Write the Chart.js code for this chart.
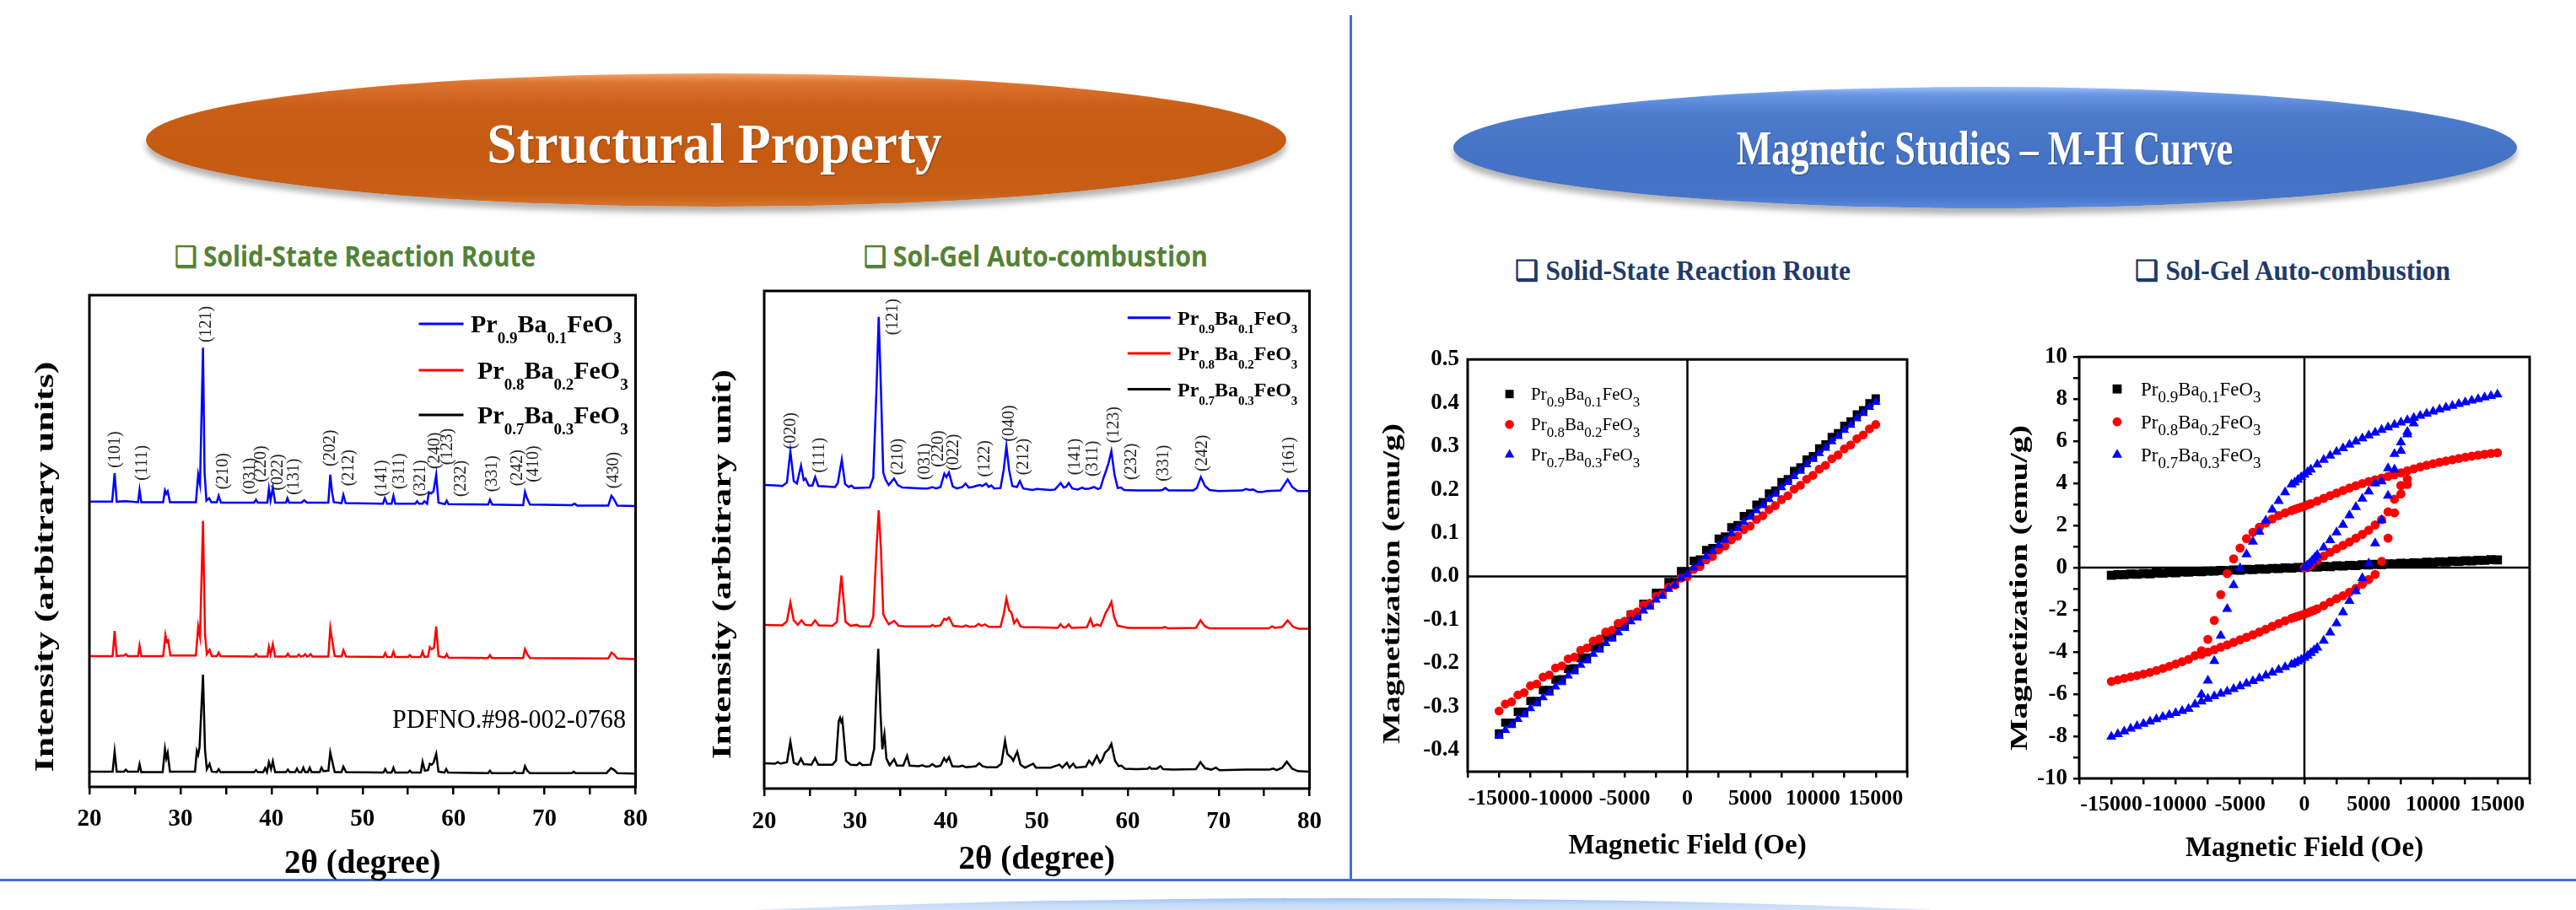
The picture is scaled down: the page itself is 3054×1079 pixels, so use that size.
<!DOCTYPE html>
<html>
<head>
<meta charset="utf-8">
<title>Structural and magnetic properties</title>
<script src="https://cdn.jsdelivr.net/npm/chart.js@4.4.1/dist/chart.umd.min.js"></script>
<style>
  html, body { margin: 0; padding: 0; background: #fff; }
  body { position: relative; width: 3054px; height: 1079px; overflow: hidden; }
  .abs { position: absolute; }
  .oval { position: absolute; border-radius: 50%; }
  .txt { position: absolute; white-space: nowrap; line-height: 1; transform-origin: 50% 50%; }
  .serif { font-family: 'Liberation Serif', 'Times New Roman', serif; font-weight: bold; }
  .sans { font-family: 'Open Sans', 'Noto Sans', sans-serif; font-weight: bold; }
  canvas { position: absolute; }
</style>
</head>
<body>
<div class="oval" style="left:414px;top:1065px;width:2360px;height:144px;background:linear-gradient(180deg,#9dc0f2 0%,#c6dbf8 5%,#e2edfc 16%,#f1f7fe 100%);"></div>
<div class="abs" style="left:1600px;top:18px;width:3px;height:1026px;background:#4472c4;"></div>
<div class="abs" style="left:0;top:1042px;width:3054px;height:3px;background:#4472c4;"></div>

<div class="oval" style="left:173px;top:87px;width:1352px;height:158px;background:linear-gradient(180deg,#f3a56a 0%,#dc7330 7%,#c95f17 25%,#c55a11 60%,#c85f17 90%,#d7742c 100%);box-shadow:0 7px 7px rgba(0,0,0,0.3);"></div>
<div class="oval" style="left:1723px;top:103px;width:1261px;height:144px;background:linear-gradient(180deg,#9cc2ff 0%,#6c98e4 6%,#4d7bcc 22%,#4472c4 60%,#4673c6 90%,#5a8ae0 100%);box-shadow:0 7px 7px rgba(0,0,0,0.3);"></div>

<div class="txt serif" data-w="540" style="left:847px;top:136px;font-size:68px;color:#fff;text-shadow:1px 1px 1px rgba(0,0,0,0.35);">Structural Property</div>
<div class="txt serif" data-w="589" style="left:2353px;top:148px;font-size:56px;color:#fff;text-shadow:1px 1px 1px rgba(0,0,0,0.35);">Magnetic Studies – M-H Curve</div>

<div class="txt sans" data-w="428" style="left:421px;top:286px;font-size:34px;color:#548235;">❑ Solid-State Reaction Route</div>
<div class="txt sans" data-w="408" style="left:1228px;top:286px;font-size:34px;color:#548235;">❑ Sol-Gel Auto-combustion</div>
<div class="txt serif" data-w="398" style="left:1995px;top:305px;font-size:33px;color:#1f3a6b;">❑ Solid-State Reaction Route</div>
<div class="txt serif" data-w="374" style="left:2718px;top:305px;font-size:33px;color:#1f3a6b;">❑ Sol-Gel Auto-combustion</div>

<canvas id="xrdSsr" width="780" height="730" style="left:0;top:330px;"></canvas>
<canvas id="xrdSg" width="780" height="735" style="left:800px;top:325px;"></canvas>
<canvas id="mhSsr" width="670" height="640" style="left:1615px;top:400px;"></canvas>
<canvas id="mhSg" width="680" height="640" style="left:2360px;top:400px;"></canvas>

<script>
// ---------- data ----------
const sampleNames = ['Pr0.9Ba0.1FeO3', 'Pr0.8Ba0.2FeO3', 'Pr0.7Ba0.3FeO3'];
const formulaParts = [
  ['Pr', '0.9', 'Ba', '0.1', 'FeO', '3'],
  ['Pr', '0.8', 'Ba', '0.2', 'FeO', '3'],
  ['Pr', '0.7', 'Ba', '0.3', 'FeO', '3']
];
const xrdColors = ['#0000ff', '#ff0000', '#000000'];
const mhColors = ['#000000', '#ff0000', '#0000ff'];
const mhStyles = ['rect', 'circle', 'triangle'];

// XRD patterns: [2theta, intensity as % of panel height]
const ssrPr09 = [[20,58.0],[22.5,58.0],[22.77,63.8],[23.0,58.0],[24.0,58.1],[25.35,57.9],[25.51,60.4],[25.7,57.9],[28.1,57.9],[28.3,60.3],[28.45,59.6],[28.6,60.1],[28.85,57.9],[31.7,57.9],[31.95,63.5],[32.15,61.5],[32.48,89.3],[32.65,64.0],[32.85,58.2],[33.15,58.7],[33.4,57.9],[34.0,57.9],[34.2,59.2],[34.45,57.8],[38.1,57.8],[38.3,58.4],[38.5,57.8],[39.55,57.8],[39.72,60.6],[39.9,58.3],[40.15,60.9],[40.4,57.8],[41.6,57.8],[41.75,58.7],[41.95,57.8],[43.3,57.8],[43.6,58.3],[43.9,57.8],[46.25,57.8],[46.46,63.5],[46.65,60.0],[46.85,57.9],[47.7,57.7],[47.9,59.4],[48.15,57.7],[52.25,57.6],[52.45,58.7],[52.7,57.6],[53.2,57.6],[53.4,59.2],[53.6,57.6],[55.8,57.6],[56.0,58.1],[56.2,57.6],[56.6,57.6],[56.8,58.1],[57.1,57.6],[57.3,59.9],[57.55,59.7],[57.8,60.1],[58.1,63.5],[58.35,57.8],[59.05,57.5],[59.25,58.2],[59.45,57.5],[63.8,57.4],[64.0,58.4],[64.25,57.4],[67.65,57.3],[67.85,60.0],[68.1,58.6],[68.4,57.4],[73.0,57.3],[73.3,57.6],[73.6,57.2],[77.0,57.2],[77.35,59.2],[77.6,58.6],[78.0,57.2],[80,57.1]];
const ssrPr08 = [[20,26.6],[22.55,26.6],[22.77,31.7],[23.0,26.6],[23.8,26.7],[24.0,27.0],[24.2,26.6],[25.35,26.6],[25.51,28.7],[25.7,26.6],[28.1,26.6],[28.35,30.9],[28.5,29.5],[28.65,29.8],[28.9,26.7],[31.7,26.7],[31.95,32.6],[32.15,30.5],[32.48,54.1],[32.7,31.0],[32.9,27.0],[33.2,27.9],[33.45,26.6],[34.0,26.6],[34.2,27.3],[34.4,26.6],[38.1,26.5],[38.3,27.0],[38.5,26.5],[39.55,26.5],[39.72,28.5],[39.9,26.9],[40.15,29.0],[40.4,26.5],[41.6,26.5],[41.8,27.1],[42.0,26.5],[42.8,26.5],[43.0,26.9],[43.2,26.5],[43.5,26.6],[43.7,27.0],[43.9,26.5],[44.1,26.6],[44.3,27.0],[44.5,26.5],[46.25,26.5],[46.46,32.3],[46.7,29.5],[46.95,26.6],[47.7,26.5],[47.9,27.8],[48.2,26.5],[52.3,26.4],[52.5,27.2],[52.7,26.4],[53.2,26.4],[53.4,27.5],[53.6,26.4],[55.0,26.4],[55.2,26.8],[55.4,26.4],[56.4,26.4],[56.6,27.5],[56.8,26.4],[57.2,26.5],[57.4,28.4],[57.6,28.0],[57.85,28.3],[58.1,32.6],[58.35,26.6],[59.05,26.3],[59.25,27.0],[59.45,26.3],[63.8,26.2],[64.0,26.8],[64.2,26.2],[67.65,26.2],[67.85,28.0],[68.1,27.0],[68.4,26.2],[77.0,26.1],[77.35,27.3],[77.6,27.0],[78.0,26.1],[80,26.0]];
const ssrPr07 = [[20,3.1],[22.55,3.1],[22.77,7.2],[23.0,3.1],[23.8,3.1],[24.0,3.5],[24.2,3.1],[25.35,3.1],[25.51,4.6],[25.7,3.0],[28.05,3.0],[28.3,7.7],[28.45,5.8],[28.6,6.9],[28.85,3.1],[31.6,3.1],[31.8,7.3],[31.95,6.5],[32.1,8.1],[32.48,22.8],[32.7,7.5],[32.9,3.6],[33.2,4.7],[33.45,3.1],[34.0,3.0],[34.2,3.6],[34.4,3.0],[38.1,3.0],[38.3,3.4],[38.5,3.0],[39.1,3.0],[39.3,3.8],[39.5,3.0],[39.72,5.0],[39.95,3.6],[40.15,5.2],[40.4,3.0],[41.6,3.0],[41.8,3.5],[42.0,3.0],[42.6,3.0],[42.8,3.7],[43.0,3.0],[43.3,3.0],[43.5,3.9],[43.7,3.0],[44.0,3.0],[44.2,3.9],[44.4,3.0],[45.3,3.0],[45.5,3.9],[45.7,3.2],[46.25,3.3],[46.46,7.0],[46.7,5.0],[46.95,3.0],[47.7,3.0],[47.9,4.1],[48.2,3.0],[52.3,2.9],[52.5,3.6],[52.7,2.9],[53.2,2.9],[53.4,3.9],[53.6,2.9],[55.0,2.9],[55.2,3.3],[55.4,2.9],[56.4,2.9],[56.6,5.1],[56.85,3.3],[57.2,3.4],[57.4,4.7],[57.6,4.5],[57.8,4.9],[58.1,6.7],[58.35,3.1],[59.0,2.9],[59.2,3.6],[59.4,2.9],[63.8,2.8],[64.0,3.3],[64.2,2.8],[66.5,2.8],[66.7,3.1],[66.9,2.8],[67.65,2.8],[67.85,4.2],[68.1,3.3],[68.4,2.8],[73.0,2.8],[73.2,3.1],[73.4,2.8],[76.8,2.8],[77.3,3.8],[77.6,3.5],[78.0,2.8],[80,2.7]];

const sgPr09 = [[20,61.0],[21.5,60.9],[22.0,60.8],[22.5,61.5],[22.88,67.8],[23.25,61.8],[23.6,61.3],[24.05,64.9],[24.35,62.0],[24.55,62.3],[24.9,60.9],[25.3,60.9],[25.61,62.6],[25.95,60.8],[27.8,60.6],[28.1,61.4],[28.54,66.1],[28.9,61.2],[29.3,60.6],[29.6,60.9],[29.9,60.4],[31.6,60.5],[32.0,62.5],[32.35,80.0],[32.6,94.8],[32.85,80.0],[33.1,63.5],[33.35,62.1],[33.7,61.0],[34.28,62.3],[34.7,61.0],[35.2,60.5],[37.5,60.3],[38.0,60.3],[38.5,60.6],[38.9,60.3],[39.4,60.6],[39.82,63.3],[40.05,62.6],[40.33,63.5],[40.75,60.7],[41.2,60.3],[41.8,60.6],[42.16,61.3],[42.5,60.5],[42.9,60.6],[43.3,60.8],[43.7,61.0],[44.0,60.8],[44.42,61.3],[44.7,60.6],[45.0,60.9],[45.3,60.3],[46.0,60.4],[46.35,64.0],[46.65,68.8],[46.95,64.0],[47.3,60.8],[47.8,60.6],[48.13,61.8],[48.5,60.3],[49.5,60.0],[50.0,60.2],[51.5,60.0],[52.0,60.1],[52.62,61.4],[52.95,60.5],[53.2,60.6],[53.51,61.4],[53.9,60.3],[54.5,60.1],[55.0,60.5],[55.3,60.2],[55.8,60.3],[56.3,60.6],[56.7,60.2],[57.0,60.4],[57.35,62.5],[57.62,63.9],[57.9,65.5],[58.2,67.8],[58.55,63.0],[58.9,60.4],[59.26,60.5],[59.6,60.0],[61.0,59.9],[63.5,59.9],[63.8,60.0],[64.14,60.4],[64.5,59.9],[67.2,59.9],[67.6,60.4],[68.04,62.6],[68.5,60.8],[69.0,60.0],[70.0,59.8],[72.6,59.9],[73.0,60.2],[73.4,60.0],[73.8,60.1],[74.3,59.6],[74.8,59.6],[75.3,59.8],[76.8,59.9],[77.2,61.0],[77.6,62.1],[78.1,60.6],[78.7,59.8],[80,59.8]];
const sgPr08 = [[20,32.9],[22.0,32.8],[22.5,33.6],[22.88,37.4],[23.25,33.8],[23.7,32.9],[24.1,33.8],[24.5,32.9],[25.2,32.8],[25.6,33.8],[26.0,32.8],[27.5,32.7],[28.0,33.5],[28.5,42.8],[28.95,33.5],[29.5,32.7],[30.2,32.9],[30.5,32.6],[31.6,32.6],[32.0,34.5],[32.35,48.0],[32.6,55.9],[32.85,48.0],[33.1,35.0],[33.3,34.3],[33.7,33.0],[34.3,33.7],[34.8,32.7],[35.5,32.6],[38.3,32.6],[38.5,32.9],[38.8,32.6],[39.4,32.8],[39.8,34.1],[40.05,33.9],[40.33,34.4],[40.8,32.7],[41.8,32.5],[42.2,32.8],[42.6,32.5],[43.2,32.6],[43.6,33.1],[43.9,32.7],[44.3,33.0],[44.7,32.5],[46.0,32.5],[46.35,35.0],[46.65,38.2],[46.95,35.8],[47.2,35.4],[47.5,33.2],[47.8,34.0],[48.2,32.6],[48.6,32.4],[50.0,32.4],[52.3,32.3],[52.6,33.0],[52.9,32.4],[53.2,32.4],[53.5,33.0],[53.8,32.3],[55.5,32.4],[55.9,34.1],[56.2,32.6],[56.6,33.0],[57.0,32.7],[57.3,34.0],[57.6,35.4],[57.9,36.3],[58.2,37.5],[58.5,34.5],[58.9,32.7],[59.3,32.6],[60.0,32.3],[63.8,32.3],[64.1,32.5],[64.4,32.2],[67.5,32.3],[68.0,33.8],[68.5,32.6],[69.0,32.2],[75.5,32.2],[75.9,32.6],[76.2,32.3],[77.0,32.5],[77.6,33.8],[78.2,32.5],[78.8,32.1],[80,32.1]];
const sgPr07 = [[20,5.1],[21.2,5.0],[21.5,5.3],[21.8,5.0],[22.5,5.3],[22.88,9.4],[23.25,5.2],[23.7,4.8],[24.05,6.0],[24.35,4.9],[25.2,4.8],[25.6,6.1],[25.95,4.8],[27.5,4.8],[27.9,5.6],[28.2,13.5],[28.35,14.2],[28.48,13.4],[28.6,13.9],[29.0,5.6],[29.5,4.8],[30.2,4.7],[30.5,5.2],[30.8,4.7],[31.7,4.8],[32.1,8.0],[32.35,20.0],[32.55,28.1],[32.8,15.0],[33.0,7.9],[33.23,10.9],[33.45,6.0],[33.8,4.7],[34.3,5.9],[34.6,4.6],[35.3,4.6],[35.72,6.6],[36.0,4.6],[37.0,4.5],[37.4,4.7],[37.8,4.4],[38.2,4.5],[38.5,4.9],[38.9,4.4],[39.4,4.6],[39.8,6.1],[40.05,5.4],[40.33,6.3],[40.7,4.5],[41.4,4.4],[41.8,4.6],[42.2,4.3],[42.9,4.4],[43.3,4.5],[43.65,5.1],[44.0,4.5],[44.5,4.3],[45.6,4.3],[46.1,5.0],[46.5,9.6],[46.75,7.0],[46.95,6.6],[47.2,6.2],[47.4,5.6],[47.84,7.4],[48.2,4.8],[48.7,4.2],[49.6,5.0],[49.9,4.2],[51.5,4.2],[52.5,4.8],[52.8,4.2],[53.3,5.2],[53.6,4.2],[54.0,5.0],[54.3,4.2],[55.4,4.4],[55.74,5.6],[56.1,4.8],[56.6,6.6],[56.95,5.2],[57.2,5.8],[57.5,7.2],[57.9,7.9],[58.2,9.0],[58.6,5.6],[59.0,4.5],[59.3,4.6],[59.7,4.0],[61.0,3.9],[62.2,4.0],[62.4,4.3],[62.6,4.0],[63.2,4.0],[63.6,4.5],[63.9,3.9],[65.0,3.8],[67.5,3.9],[68.0,5.3],[68.5,4.1],[69.2,3.8],[69.7,4.2],[70.1,3.7],[73.0,3.8],[75.6,3.8],[76.0,4.0],[76.4,3.7],[77.0,4.2],[77.5,5.4],[78.1,4.0],[78.7,3.5],[80,3.4]];

// hkl annotations (anchor: 2theta, intensity)
const ssrHkl = ['(101)','(111)','(121)','(210)','(031)','(220)','(022)','(131)','(202)','(212)','(141)','(311)','(321)','(240)','(123)','(232)','(331)','(242)','(410)','(430)'];
const ssrHklX = [22.89, 25.79, 32.88, 34.71, 37.65, 38.9, 40.7, 42.54, 46.45, 48.49, 52.13, 54.09, 56.44, 58.0, 59.38, 60.86, 64.27, 67.01, 68.77, 77.58];
const ssrHklY = [68.6, 65.9, 94.1, 64.2, 63.2, 65.7, 64.0, 63.1, 68.9, 64.9, 62.8, 64.2, 62.8, 68.4, 69.2, 62.7, 63.7, 64.9, 65.7, 64.4];
const sgHkl = ['(020)','(111)','(121)','(210)','(031)','(220)','(022)','(122)','(040)','(212)','(141)','(311)','(123)','(232)','(331)','(242)','(161)'];
const sgHklX = [22.96, 26.08, 34.20, 34.74, 37.67, 39.16, 40.83, 44.30, 47.03, 48.60, 54.18, 56.13, 58.47, 60.42, 63.94, 68.23, 77.79];
const sgHklY = [71.9, 67.0, 94.8, 66.7, 65.7, 68.3, 67.6, 66.3, 73.4, 66.7, 66.7, 66.3, 73.1, 65.7, 65.4, 67.4, 67.0];

// M-H, solid-state route (field in Oe, M in emu/g)
const mhStepH = [-15000,-14000,-13000,-12000,-11000,-10000,-9000,-8000,-7000,-6000,-5000,-4000,-3000,-2000,-1000,0,1000,2000,3000,4000,5000,6000,7000,8000,9000,10000,11000,12000,13000,14000,15000];
const mhHalfH = [14500,13500,12500,11500,10500,9500,8500,7500,6500,5500,4500,3500,2500,1500,500,-500,-1500,-2500,-3500,-4500,-5500,-6500,-7500,-8500,-9500,-10500,-11500,-12500,-13500,-14500];
const ssrMPr09Up = [-0.362,-0.337,-0.312,-0.287,-0.262,-0.237,-0.212,-0.187,-0.162,-0.138,-0.113,-0.088,-0.063,-0.038,-0.013,0.012,0.039,0.065,0.092,0.118,0.145,0.171,0.198,0.224,0.251,0.277,0.304,0.330,0.357,0.383,0.410];
const ssrMPr09Down = [0.399,0.373,0.347,0.321,0.295,0.269,0.243,0.217,0.191,0.165,0.139,0.113,0.087,0.061,0.036,0.012,-0.013,-0.038,-0.063,-0.088,-0.113,-0.138,-0.163,-0.188,-0.213,-0.238,-0.262,-0.287,-0.312,-0.337];
const ssrMPr08Up = [-0.310,-0.289,-0.268,-0.248,-0.227,-0.206,-0.186,-0.165,-0.144,-0.124,-0.103,-0.082,-0.062,-0.041,-0.020,0.000,0.023,0.046,0.070,0.093,0.116,0.140,0.163,0.186,0.210,0.233,0.256,0.280,0.303,0.326,0.350];
const ssrMPr08Down = [0.340,0.317,0.294,0.271,0.247,0.224,0.201,0.177,0.154,0.131,0.108,0.084,0.061,0.038,0.016,-0.004,-0.025,-0.046,-0.066,-0.087,-0.108,-0.128,-0.149,-0.170,-0.190,-0.211,-0.232,-0.252,-0.273,-0.294];
const ssrMPr07Up = [-0.368,-0.343,-0.318,-0.293,-0.268,-0.244,-0.219,-0.194,-0.169,-0.144,-0.119,-0.095,-0.070,-0.045,-0.020,0.005,0.031,0.058,0.084,0.111,0.137,0.164,0.190,0.217,0.243,0.270,0.296,0.323,0.349,0.376,0.402];
const ssrMPr07Down = [0.390,0.364,0.337,0.311,0.284,0.258,0.231,0.205,0.178,0.152,0.125,0.099,0.072,0.046,0.020,-0.004,-0.029,-0.054,-0.079,-0.104,-0.129,-0.154,-0.179,-0.204,-0.229,-0.254,-0.279,-0.304,-0.329,-0.354];

// M-H, sol-gel route
const sgMPr09Up = [-0.360,-0.336,-0.312,-0.287,-0.263,-0.239,-0.214,-0.190,-0.166,-0.141,-0.117,-0.093,-0.068,-0.044,-0.020,0.005,0.029,0.053,0.078,0.102,0.126,0.151,0.175,0.199,0.224,0.248,0.272,0.297,0.321,0.345,0.370];
const sgMPr09Down = [0.378,0.354,0.329,0.305,0.281,0.256,0.232,0.208,0.183,0.159,0.135,0.110,0.086,0.062,0.037,0.013,-0.011,-0.036,-0.060,-0.084,-0.109,-0.133,-0.157,-0.182,-0.206,-0.230,-0.255,-0.279,-0.303,-0.328];
const sgDownH = [15000,14500,14000,13500,13000,12500,12000,11500,11000,10500,10000,9500,9000,8500,8000,7500,7000,6500,6000,5500,5000,4500,4000,3500,3000,2500,2000,1500,1000,500,250,0,-250,-500,-750,-1000,-1500,-2000,-2500,-3000,-3500,-4000,-4500,-5000,-5500,-6000,-6500,-7000,-7500,-8000,-8500,-9000,-9500,-10000,-10500,-11000,-11500,-12000,-12500,-13000,-13500,-14000,-14500,-15000];
const sgUpH = [-8000,-7500,-7000,-6500,-6000,-5500,-5000,-4500,-4000,-3500,-3000,-2500,-2000,-1500,-1000,-750,-500,-250,0,250,500,750,1000,1500,2000,2500,3000,3500,4000,4500,5000,5500,6000,6500,7000,7500,8000];
const sgMPr08Down = [5.45,5.42,5.38,5.34,5.29,5.24,5.18,5.12,5.06,5.00,4.93,4.86,4.78,4.69,4.60,4.50,4.41,4.33,4.25,4.17,4.09,3.99,3.89,3.78,3.66,3.54,3.42,3.29,3.16,3.04,2.98,2.92,2.87,2.82,2.77,2.71,2.60,2.47,2.31,2.12,1.92,1.68,1.38,0.93,0.42,-0.28,-1.28,-2.50,-3.40,-3.94,-4.17,-4.35,-4.46,-4.57,-4.68,-4.78,-4.88,-4.97,-5.05,-5.12,-5.18,-5.25,-5.32,-5.40];
const sgMPr08Up = [-4.12,-4.00,-3.89,-3.77,-3.66,-3.54,-3.42,-3.30,-3.18,-3.05,-2.92,-2.78,-2.65,-2.52,-2.40,-2.35,-2.30,-2.25,-2.20,-2.14,-2.08,-2.02,-1.95,-1.80,-1.63,-1.47,-1.33,-1.16,-0.98,-0.78,-0.56,-0.32,0.30,1.40,2.60,3.50,3.95];
const sgPr08VirginH = [0,250,500,1000,1500,2000,2500,3000,3500,4000,4500,5000,5500,6000,6500,7000,7500,8000];
const sgMPr08Virgin = [0,0.05,0.12,0.35,0.55,0.73,0.90,1.06,1.22,1.40,1.58,1.78,2.03,2.28,2.65,3.25,3.90,4.20];
const sgMPr07Down = [8.22,8.15,8.08,8.00,7.93,7.85,7.77,7.68,7.60,7.51,7.41,7.31,7.21,7.11,7.00,6.89,6.78,6.66,6.54,6.41,6.28,6.14,5.99,5.84,5.67,5.50,5.32,5.12,4.90,4.66,4.54,4.42,4.30,4.18,4.05,3.95,3.58,3.17,2.76,2.23,1.70,1.23,0.63,-0.03,-0.83,-1.96,-3.23,-4.43,-5.36,-6.02,-6.49,-6.70,-6.80,-6.90,-6.99,-7.08,-7.19,-7.30,-7.41,-7.52,-7.64,-7.77,-7.90,-8.02];
const sgMPr07Up = [-6.35,-6.22,-6.10,-5.98,-5.88,-5.76,-5.63,-5.50,-5.38,-5.25,-5.12,-4.98,-4.85,-4.72,-4.60,-4.53,-4.45,-4.37,-4.28,-4.18,-4.05,-3.92,-3.80,-3.47,-3.08,-2.64,-2.12,-1.58,-1.12,-0.50,0.20,1.15,2.25,3.42,4.66,5.55,6.33];
const sgPr07VirginH = [0,200,400,600,800,1000,1500,2000,2500,3000,3500,4000,4500,5000,5500,6000,6500,7000,7500,8000,8500];
const sgMPr07Virgin = [0,0.10,0.20,0.33,0.47,0.60,0.95,1.30,1.67,2.03,2.48,2.88,3.28,3.62,4.00,4.10,4.72,5.40,5.95,6.45,6.85];

// ---------- helpers ----------
const serif = "'Liberation Serif', 'Times New Roman', serif";
const pts = (xs, ys) => xs.map((x, i) => ({x: x, y: ys[i]}));
const pairs = arr => arr.map(p => ({x: p[0], y: p[1]}));

document.querySelectorAll('.txt').forEach(el => {
  const s = (+el.dataset.w) / el.offsetWidth;
  el.style.transform = 'translateX(-50%) scaleX(' + s + ')';
});

function mark(ctx, style, r, x, y) {
  ctx.beginPath();
  if (style === 'rect') {
    const s = r * Math.SQRT1_2;
    ctx.rect(x - s, y - s, 2 * s, 2 * s);
  } else if (style === 'circle') {
    ctx.arc(x, y, r, 0, Math.PI * 2);
  } else {
    for (let k = 0; k < 3; k++) {
      const a = k * Math.PI * 2 / 3;
      const px = x + Math.sin(a) * r, py = y - Math.cos(a) * r;
      if (k) ctx.lineTo(px, py); else ctx.moveTo(px, py);
    }
    ctx.closePath();
  }
  ctx.fill();
}

function formula(ctx, parts, x, base, lg) {
  let cx = x;
  parts.forEach((p, i) => {
    const sub = i % 2 === 1;
    ctx.font = sub ? lg.sub : lg.main;
    ctx.fillText(p, cx, base + (sub ? lg.subDy : 0));
    cx += ctx.measureText(p).width;
  });
}

function stretched(ctx, text, x, y, font, len, rot, align) {
  ctx.save();
  ctx.font = font;
  const w = ctx.measureText(text).width;
  ctx.translate(x, y);
  ctx.rotate(rot);
  ctx.scale(len / w, 1);
  ctx.textAlign = align || 'center';
  ctx.textBaseline = align ? 'alphabetic' : 'middle';
  ctx.fillText(text, 0, 0);
  ctx.restore();
}

// box, zero lines, hkl labels, legend, y title
function deco(cfg) {
  return {
    id: 'deco',
    beforeDatasetsDraw(chart) {
      if (!cfg.cross) return;
      const {ctx, chartArea: a, scales} = chart;
      const x0 = scales.x.getPixelForValue(0), y0 = scales.y.getPixelForValue(0);
      ctx.save();
      ctx.strokeStyle = '#000';
      ctx.lineWidth = 2.5;
      ctx.beginPath();
      ctx.moveTo(x0, a.top); ctx.lineTo(x0, a.bottom);
      ctx.moveTo(a.left, y0); ctx.lineTo(a.right, y0);
      ctx.stroke();
      ctx.restore();
    },
    afterDatasetsDraw(chart) {
      const {ctx, chartArea: a, scales} = chart;
      ctx.save();
      if (cfg.hkl) {
        ctx.fillStyle = '#222';
        ctx.font = '20px ' + serif;
        ctx.textAlign = 'center';
        ctx.textBaseline = 'middle';
        cfg.hkl.labels.forEach((t, i) => {
          ctx.save();
          ctx.translate(scales.x.getPixelForValue(cfg.hkl.x[i]), scales.y.getPixelForValue(cfg.hkl.y[i]));
          ctx.rotate(-Math.PI / 2);
          ctx.fillText(t, 0, 0);
          ctx.restore();
        });
      }
      ctx.strokeStyle = '#000';
      ctx.lineWidth = 3;
      ctx.strokeRect(a.left, a.top, a.right - a.left, a.bottom - a.top);

      const lg = cfg.legend;
      ctx.textAlign = 'left';
      ctx.textBaseline = 'alphabetic';
      lg.rows.forEach((ry, i) => {
        const y = a.top + ry;
        if (lg.kind === 'line') {
          ctx.strokeStyle = xrdColors[i];
          ctx.lineWidth = 3;
          ctx.beginPath();
          ctx.moveTo(a.left + lg.x1, y); ctx.lineTo(a.left + lg.x2, y);
          ctx.stroke();
        } else {
          ctx.fillStyle = mhColors[i];
          mark(ctx, mhStyles[i], cfg.radii[i], a.left + lg.mx, y);
        }
        ctx.fillStyle = '#000';
        formula(ctx, formulaParts[i], a.left + lg.tx[i], y + lg.baseDy, lg);
      });

      ctx.fillStyle = '#000';
      const yt = cfg.yTitle;
      stretched(ctx, yt.text, yt.x, yt.y, 'bold ' + yt.size + 'px ' + serif, yt.len, -Math.PI / 2);
      if (cfg.note) {
        const n = cfg.note;
        stretched(ctx, n.text, n.x, n.y, n.size + 'px ' + serif, n.len, 0, 'right');
      }
      ctx.restore();
    }
  };
}

function xrdChart(id, series, pad, xH, tickPad, titlePad, cfg) {
  return new Chart(document.getElementById(id), {
    type: 'scatter',
    data: {
      datasets: series.map((s, i) => ({
        label: sampleNames[i],
        data: pairs(s),
        showLine: true,
        borderColor: xrdColors[i],
        borderWidth: 2.5,
        pointRadius: 0,
        tension: 0
      }))
    },
    options: {
      responsive: false,
      animation: false,
      devicePixelRatio: 1,
      events: [],
      layout: {padding: pad},
      plugins: {legend: {display: false}, tooltip: {enabled: false}},
      scales: {
        x: {
          type: 'linear', min: 20, max: 80,
          afterFit: s => { s.height = xH; },
          ticks: {stepSize: 5, autoSkip: false, maxRotation: 0, padding: tickPad, color: '#000',
                  font: {family: serif, size: 29, weight: 'bold'},
                  callback: v => (v % 10 === 0 ? String(v) : '')},
          grid: {display: true, drawOnChartArea: false, drawTicks: true, tickLength: 9, color: '#000', lineWidth: 2.5},
          border: {display: false},
          title: {display: true, text: '2θ (degree)', color: '#000',
                  font: {family: serif, size: 39, weight: 'bold'}, padding: {top: 0, bottom: titlePad}}
        },
        y: {display: false, min: 0, max: 100}
      }
    },
    plugins: [deco(cfg)]
  });
}

function mhChart(id, sets, radii, pad, yW, xH, yScale, xTickPad, xTitlePad, cfg) {
  cfg.radii = radii;
  cfg.cross = true;
  return new Chart(document.getElementById(id), {
    type: 'scatter',
    data: {
      datasets: sets.map((d, i) => ({
        label: sampleNames[i],
        data: d,
        order: 3 - i,
        pointStyle: mhStyles[i],
        pointRadius: radii[i],
        pointBackgroundColor: mhColors[i],
        pointBorderColor: mhColors[i],
        pointBorderWidth: 0,
        backgroundColor: mhColors[i],
        borderColor: mhColors[i]
      }))
    },
    options: {
      responsive: false,
      animation: false,
      devicePixelRatio: 1,
      events: [],
      layout: {padding: pad},
      plugins: {legend: {display: false}, tooltip: {enabled: false}},
      scales: {
        x: {
          type: 'linear', min: -17500, max: 17500,
          afterFit: s => { s.height = xH; },
          ticks: {stepSize: 2500, autoSkip: false, maxRotation: 0, padding: xTickPad, color: '#000',
                  font: {family: serif, size: 26, weight: 'bold'},
                  callback: v => (v % 5000 === 0 && Math.abs(v) <= 15000 ? String(v) : '')},
          grid: {display: true, drawOnChartArea: false, drawTicks: true, tickLength: 7, color: '#000', lineWidth: 2.5},
          border: {display: false},
          title: {display: true, text: 'Magnetic Field (Oe)', color: '#000',
                  font: {family: serif, size: 33, weight: 'bold'}, padding: {top: 0, bottom: xTitlePad}}
        },
        y: Object.assign({
          type: 'linear',
          afterFit: s => { s.width = yW; },
          border: {display: false}
        }, yScale)
      }
    },
    plugins: [deco(cfg)]
  });
}

// ---------- charts ----------
xrdChart('xrdSsr', [ssrPr09, ssrPr08, ssrPr07], {left: 106, top: 20, right: 24, bottom: 0}, 127, 12, 11.6, {
  hkl: {labels: ssrHkl, x: ssrHklX, y: ssrHklY},
  legend: {kind: 'line', x1: 390.5, x2: 443.5, rows: [34, 89, 142], tx: [452, 460, 460],
           main: 'bold 30px ' + serif, sub: 'bold 19px ' + serif, subDy: 13, baseDy: 10},
  yTitle: {text: 'Intensity (arbitrary units)', x: 55, y: 342, size: 32, len: 487},
  note: {text: 'PDFNO.#98-002-0768', x: 742, y: 533, size: 31, len: 277}
});

xrdChart('xrdSg', [sgPr09, sgPr08, sgPr07], {left: 106, top: 20, right: 22, bottom: 0}, 125, 13, 16.6, {
  hkl: {labels: sgHkl, x: sgHklX, y: sgHklY},
  legend: {kind: 'line', x1: 430.8, x2: 481.7, rows: [31.7, 74, 116.5], tx: [490, 490, 490],
           main: 'bold 24px ' + serif, sub: 'bold 15px ' + serif, subDy: 10, baseDy: 8},
  yTitle: {text: 'Intensity (arbitrary unit)', x: 58, y: 344, size: 32, len: 462}
});

mhChart('mhSsr', [
    pts(mhStepH, ssrMPr09Up).concat(pts(mhHalfH, ssrMPr09Down)),
    pts(mhStepH, ssrMPr08Up).concat(pts(mhHalfH, ssrMPr08Down)),
    pts(mhStepH, ssrMPr07Up).concat(pts(mhHalfH, ssrMPr07Down))
  ], [7, 5.3, 6.6], {left: 0, top: 21, right: 24, bottom: 0}, 125, 125,
  {min: -0.45, max: 0.5,
   ticks: {stepSize: 0.1, includeBounds: false, padding: 10, color: '#000',
           font: {family: serif, size: 27, weight: 'bold'},
           callback: v => (Math.abs(v) < 1e-9 ? '0.0' : v.toFixed(1))},
   grid: {display: false, drawTicks: false}},
  10, 17.2, {
    legend: {kind: 'marker', mx: 49.6, rows: [41, 77, 113], tx: [75, 75, 75],
             main: '21px ' + serif, sub: '17px ' + serif, subDy: 8, baseDy: 7},
    yTitle: {text: 'Magnetization (emu/g)', x: 36, y: 292, size: 30, len: 380}
  });

mhChart('mhSg', [
    pts(mhStepH, sgMPr09Up).concat(pts(mhHalfH, sgMPr09Down)),
    pts(sgPr08VirginH, sgMPr08Virgin).concat(pts(sgDownH, sgMPr08Down), pts(sgUpH, sgMPr08Up)),
    pts(sgPr07VirginH, sgMPr07Virgin).concat(pts(sgDownH, sgMPr07Down), pts(sgUpH, sgMPr07Up))
  ], [7.6, 5.4, 7], {left: 0, top: 22, right: 41, bottom: 0}, 105, 117,
  {min: -10, max: 10,
   ticks: {stepSize: 1, autoSkip: false, padding: 7, color: '#000',
           font: {family: serif, size: 27, weight: 'bold'},
           callback: v => (v % 2 === 0 ? String(v) : '')},
   grid: {display: true, drawOnChartArea: false, drawTicks: true, tickLength: 7, color: '#000', lineWidth: 2.5}},
  9, 14.2, {
    legend: {kind: 'marker', mx: 45, rows: [38, 77, 116], tx: [73, 73, 73],
             main: '23px ' + serif, sub: '19px ' + serif, subDy: 8.5, baseDy: 7.5},
    yTitle: {text: 'Magnetization (emu/g)', x: 35, y: 297, size: 30, len: 386}
  });
</script>
</body>
</html>
